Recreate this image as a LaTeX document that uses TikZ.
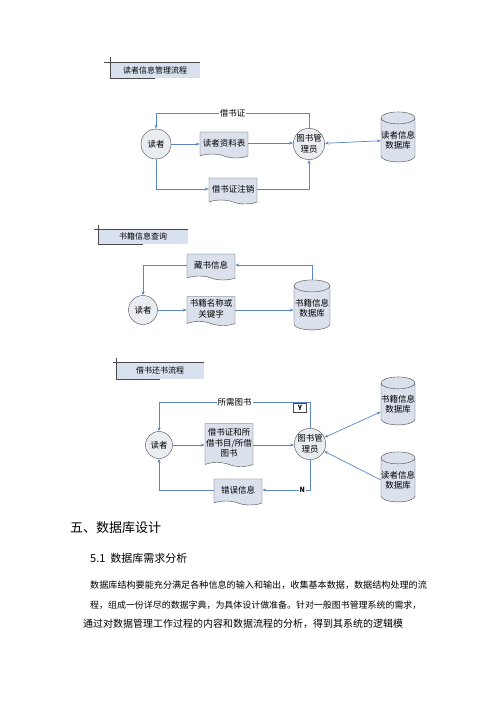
\documentclass[tikz,border=0pt]{standalone}
\usepackage{fontspec}
\setmainfont{Noto Sans CJK SC}
\usetikzlibrary{arrows.meta,positioning,shapes.geometric,shapes.symbols}

\definecolor{flowblue}{HTML}{5B85C3}
\definecolor{edgegray}{HTML}{4A4A4A}
\definecolor{circlefill}{HTML}{E9ECF1}
\definecolor{docfill}{HTML}{DAE1EC}
\definecolor{dbfill}{HTML}{DAE1EC}
\definecolor{tabfill}{HTML}{D9E1EE}

\begin{document}
\begin{tikzpicture}[
  x=1pt,y=-1pt,
  font=\fontsize{8.5}{10.5}\selectfont,
  >={Stealth[length=4pt,width=3pt]},
  person/.style={draw=edgegray,circle,fill=circlefill,minimum size=30pt,
                 inner sep=0pt,align=center},
  doc/.style   ={draw=edgegray,tape,tape bend top=none,tape bend bottom=out and in,
                 tape bend height=4pt,fill=docfill,minimum width=48pt,
                 minimum height=26pt,inner sep=1pt,align=center},
  store/.style ={draw=edgegray,cylinder,shape border rotate=90,aspect=0.35,
                 fill=dbfill,minimum width=32pt,minimum height=50pt,
                 inner sep=0pt,align=center},
  tab/.style   ={fill=tabfill,minimum width=90pt,minimum height=16pt,inner sep=0pt,
                 font=\fontsize{8}{9}\selectfont},
  tabline/.style={draw=edgegray,line width=0.6pt},
  flow/.style  ={->,draw=flowblue,line width=0.7pt},
  biflow/.style={<->,draw=flowblue,line width=0.7pt},
  lbl/.style   ={fill=white,inner sep=1pt},
  ybox/.style  ={draw=edgegray,fill=white,inner sep=0.5pt,minimum width=13pt,
                 minimum height=9pt,font=\fontsize{7}{8}\selectfont\bfseries},
]
\useasboundingbox (0,0) rectangle (500,707);

%% ======================================================
%% Part 1: reader information management
%% ======================================================
\node[tab] (t1) at (155,70) {读者信息管理流程};
\draw[tabline] ([xshift=-6pt]t1.north west) -- (t1.north east);
\draw[tabline] ([yshift=5pt]t1.north west) -- (t1.south west) -- (t1.south);

\node[person] (r1)  at (156,144) {读者};
\node[doc]    (d1)  at (224,143) {读者资料表};
\node[person,minimum size=31pt] (m1) at (309,144) {图书管\\理员};
\node[store]  (db1) at (398,140) {读者信息\\数据库};
\node[doc]    (d2)  at (233,189) {借书证注销};

\draw[flow]   (m1.north) -- ++(0,-15) -| node[lbl,pos=0.25]{借书证} (r1.north);
\draw[flow]   (r1) -- (r1 -| d1.west);
\draw[flow]   (d1.east) -- (d1.east -| m1.west);
\draw[biflow] (m1) -- (db1);
\draw[flow]   (r1.south) |- (d2.west);
\draw[flow]   (d2.east) -| (m1.south);

%% ======================================================
%% Part 2: book information query
%% ======================================================
\node[tab,minimum width=89pt,minimum height=15pt] (t2) at (143,236.5) {书籍信息查询};
\draw[tabline] ([xshift=-4pt]t2.north west) -- (t2.north east);
\draw[tabline] ([yshift=4pt]t2.north west) -- (t2.south west) -- (t2.south);

\node[person,minimum size=29pt] (r2) at (143,310) {读者};
\node[doc]    (d3)  at (211,265) {藏书信息};
\node[doc,minimum height=29pt] (d4) at (211,309) {书籍名称或\\关键字};
\node[store,minimum width=36pt] (db2) at (312,308) {书籍信息\\数据库};

\draw[flow]   (r2) -- (r2 -| d4.west);
\draw[flow]   (r2 -| d4.east) -- (r2 -| db2.west);
\draw[flow]   (db2.north) |- (d3.east);
\draw[flow]   (d3.west) -| (r2.north);

%% ======================================================
%% Part 3: borrow / return
%% ======================================================
\node[tab,minimum width=87pt,minimum height=17pt] (t3) at (160,370.5) {借书还书流程};
\draw[tabline] ([xshift=-3pt]t3.north west) -- (t3.north east);
\draw[tabline] ([yshift=4pt]t3.north west) -- (t3.south west) -- (t3.south);

\node[person,minimum size=27pt] (r3) at (159,445) {读者};
\node[doc,minimum height=43pt] (d5) at (229,443) {借书证和所\\借书目/所借\\图书};
\node[person] (m3)  at (310,444) {图书管\\理员};
\node[store,minimum height=48pt] (db3) at (398,404) {书籍信息\\数据库};
\node[store]  (db4) at (398,480) {读者信息\\数据库};
\node[doc]    (d6)  at (238,490) {错误信息};
\node[ybox]   (y3)  at (300,408) {Y};

\draw[flow]   (m3.north) -- ++(0,-26) -| node[lbl,pos=0.25]{所需图书} (r3.north);
\draw[flow]   (r3) -- (r3 -| d5.west);
\draw[flow]   (r3 -| d5.east) -- (r3 -| m3.west);
\draw[flow]   (m3.south) |- node[pos=0.58,fill=white,inner sep=0.5pt,
                 font=\fontsize{7}{8}\selectfont\bfseries]{N} (d6.east);
\draw[flow]   (d6.west) -| (r3.south);
\draw[biflow] (m3) -- (db3);
\draw[flow]   (db4.west) -- (m3);

%% ======================================================
%% Text below the charts
%% ======================================================
\node[anchor=west,inner sep=0pt,font=\fontsize{13}{15}\selectfont] (h5) at (70,528) {五、数据库设计};
\node[anchor=west,inner sep=0pt,font=\fontsize{11}{13}\selectfont] (h51) at (90,558) {5.1\hspace{5pt}数据库需求分析};
\node[anchor=west,inner sep=0pt,font=\fontsize{9.1}{11}\selectfont] (p1) at (90,585)
  {数据库结构要能充分满足各种信息的输入和输出，收集基本数据，数据结构处理的流};
\node[anchor=west,inner sep=0pt,font=\fontsize{8.95}{11}\selectfont] (p2) at (90,605)
  {程，组成一份详尽的数据字典，为具体设计做准备。针对一般图书管理系统的需求，};
\node[anchor=west,inner sep=0pt,font=\fontsize{10}{12}\selectfont] (p3) at (83,624)
  {通过对数据管理工作过程的内容和数据流程的分析，得到其系统的逻辑模};

\end{tikzpicture}
\end{document}
